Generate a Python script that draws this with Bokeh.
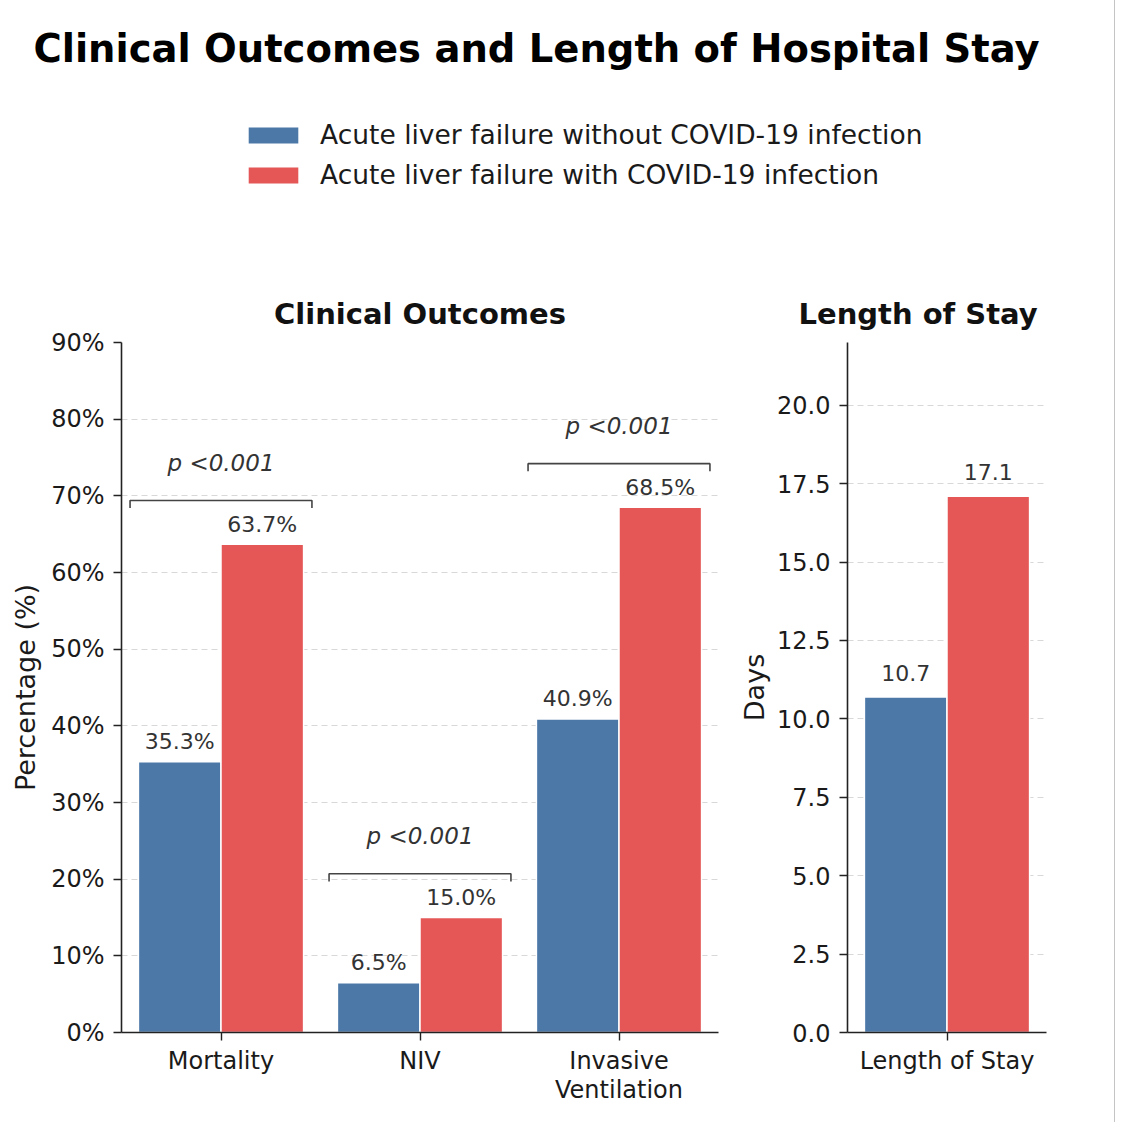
import numpy as np
from bokeh.plotting import figure
from bokeh.layouts import column, row
from bokeh.models import (ColumnDataSource, FixedTicker, PrintfTickFormatter,
                          Legend, LegendItem, Title, Range1d)
from bokeh.core.properties import value
from bokeh.embed import file_html
from bokeh.resources import INLINE

# ---- data ----
outcomes = ["Mortality", "NIV", "Invasive\nVentilation"]
without_covid = [35.3, 6.5, 40.9]
with_covid = [63.7, 15.0, 68.5]
p_values = ["p <0.001", "p <0.001", "p <0.001"]

stay_label = ["Length of Stay"]
stay_without = [10.7]
stay_with = [17.1]

series_names = ["Acute liver failure without COVID-19 infection",
                "Acute liver failure with COVID-19 infection"]
BLUE = "#4C78A8"
RED = "#E45756"
FONT = "DejaVu Sans"
BAR_W = 0.415

pct_ticks = list(range(0, 91, 10))
day_ticks = [0.0, 2.5, 5.0, 7.5, 10.0, 12.5, 15.0, 17.5, 20.0]


def style_axes(p):
    p.outline_line_color = None
    p.xgrid.visible = False
    p.ygrid.grid_line_color = "#d8d8d8"
    p.ygrid.grid_line_dash = "6 4"
    p.ygrid.grid_line_width = 1.1
    for ax in (p.xaxis, p.yaxis):
        ax.axis_line_color = "#222222"
        ax.axis_line_width = 1.6
        ax.major_tick_line_color = "#222222"
        ax.major_tick_line_width = 1.4
        ax.major_tick_out = 8
        ax.major_tick_in = 0
        ax.minor_tick_line_color = None
        ax.major_label_text_font = FONT
        ax.major_label_text_font_size = "24px"
        ax.major_label_text_color = "#1a1a1a"
        ax.major_label_standoff = 9
        ax.axis_label_text_font = FONT
        ax.axis_label_text_font_size = "27px"
        ax.axis_label_text_font_style = "normal"
        ax.axis_label_text_color = "#1a1a1a"
    p.xaxis.major_label_standoff = 6
    p.xaxis.major_label_text_line_height = 1.05
    p.toolbar.logo = None


def add_title(p, text, align, offset=0):
    t = Title(text=text, text_font=FONT, text_font_size="29px",
              text_font_style="bold", text_color="#111111",
              align=align, offset=offset, standoff=24)
    p.add_layout(t, "above")


def bar_labels(p, source, xcol, ycol, lcol, dy):
    p.text(x=xcol, y=ycol, text=lcol, source=source, text_font=value(FONT),
           text_font_size="22px", text_color="#333333", text_align="center",
           text_baseline="middle", y_offset=dy)


# ---- header: overall title and legend ----
HDR_H = 280
header = figure(width=1114, height=HDR_H, x_range=Range1d(0, 1114),
                y_range=Range1d(0, HDR_H), output_backend="svg",
                toolbar_location=None, min_border=0)
header.axis.visible = False
header.grid.visible = False
header.outline_line_color = None
header.text(x=[536], y=[HDR_H - 48],
            text=["Clinical Outcomes and Length of Hospital Stay"],
            text_font=value(FONT), text_font_size="38.5px",
            text_font_style="bold", text_align="center",
            text_baseline="middle", text_color="#000000")

# hidden proxies that carry the series colours into the legend
proxy = ColumnDataSource(dict(x=[0], wo=without_covid[:1], w=with_covid[:1]))
r_blue = header.vbar(x="x", top="wo", width=BAR_W, source=proxy,
                     fill_color=BLUE, line_color=None, visible=False)
r_red = header.vbar(x="x", top="w", width=BAR_W, source=proxy,
                    fill_color=RED, line_color=None, visible=False)
legend = Legend(items=[LegendItem(label=series_names[0], renderers=[r_blue]),
                       LegendItem(label=series_names[1], renderers=[r_red])],
                location=(242, HDR_H - 190), orientation="vertical",
                glyph_width=62, glyph_height=20, label_standoff=16,
                spacing=9, padding=0, margin=0,
                label_text_font=FONT, label_text_font_size="26.5px",
                label_text_color="#1a1a1a", inactive_fill_alpha=0,
                border_line_color=None, background_fill_alpha=0)
header.add_layout(legend, "center")

# ---- left panel: clinical outcomes ----
x = np.arange(len(outcomes))
src = ColumnDataSource(dict(x_wo=x - BAR_W / 2, x_w=x + BAR_W / 2,
                            wo=without_covid, w=with_covid,
                            wo_lbl=[f"{v:.1f}%" for v in without_covid],
                            w_lbl=[f"{v:.1f}%" for v in with_covid]))

left = figure(width=736, height=842, x_range=Range1d(-0.5, 2.5),
              y_range=Range1d(0, 90), output_backend="svg",
              toolbar_location=None, min_border_left=121,
              min_border_right=18, min_border_top=62, min_border_bottom=90)
style_axes(left)
add_title(left, "Clinical Outcomes", "center")
left.vbar(x="x_wo", top="wo", width=BAR_W, source=src, fill_color=BLUE,
          line_color="white", line_width=1.5)
left.vbar(x="x_w", top="w", width=BAR_W, source=src, fill_color=RED,
          line_color="white", line_width=1.5)
bar_labels(left, src, "x_wo", "wo", "wo_lbl", -20)
bar_labels(left, src, "x_w", "w", "w_lbl", -20)

# significance brackets
tops = [max(a, b) + 4.7 for a, b in zip(without_covid, with_covid)]
bx0 = [i - 0.457 for i in x]
bx1 = [i + 0.457 for i in x]
xs = [[a, a, b, b] for a, b in zip(bx0, bx1)]
ys = [[t, t + 1, t + 1, t] for t in tops]
left.multi_line(xs=xs, ys=ys, line_color="#444444", line_width=1.6)
left.text(x=list(x), y=[t + 5.9 for t in tops], text=p_values,
          text_font=value(FONT), text_font_size="23px",
          text_font_style="italic", text_color="#333333",
          text_align="center", text_baseline="middle")

left.xaxis.ticker = FixedTicker(ticks=list(x))
left.xaxis.major_label_overrides = {int(i): lbl for i, lbl in zip(x, outcomes)}
left.yaxis.ticker = FixedTicker(ticks=pct_ticks)
left.yaxis.formatter = PrintfTickFormatter(format="%d%%")
left.yaxis.axis_label = "Percentage (%)"
left.yaxis.axis_label_standoff = 7

# ---- right panel: length of stay ----
xr = np.arange(len(stay_label))
src_r = ColumnDataSource(dict(x_wo=xr - BAR_W / 2, x_w=xr + BAR_W / 2,
                              wo=stay_without, w=stay_with,
                              wo_lbl=[f"{v:.1f}" for v in stay_without],
                              w_lbl=[f"{v:.1f}" for v in stay_with]))
right = figure(width=378, height=842, x_range=Range1d(-0.5, 0.5),
               y_range=Range1d(0, 22), output_backend="svg",
               toolbar_location=None, min_border_left=111,
               min_border_right=68, min_border_top=62, min_border_bottom=90)
style_axes(right)
add_title(right, "Length of Stay", "left", offset=-49)
right.vbar(x="x_wo", top="wo", width=BAR_W, source=src_r, fill_color=BLUE,
           line_color="white", line_width=1.5)
right.vbar(x="x_w", top="w", width=BAR_W, source=src_r, fill_color=RED,
           line_color="white", line_width=1.5)
bar_labels(right, src_r, "x_wo", "wo", "wo_lbl", -24)
bar_labels(right, src_r, "x_w", "w", "w_lbl", -24)
right.xaxis.ticker = FixedTicker(ticks=list(xr))
right.xaxis.major_label_overrides = {int(i): lbl for i, lbl in zip(xr, stay_label)}
right.yaxis.ticker = FixedTicker(ticks=day_ticks)
right.yaxis.formatter = PrintfTickFormatter(format="%.1f")
right.yaxis.axis_label = "Days"
right.yaxis.axis_label_standoff = 4

layout = column(header, row(left, right, spacing=0), spacing=0,
                styles={"border-right": "1px solid #c4c4c4"})

open("out.html", "w").write(file_html(layout, INLINE))
